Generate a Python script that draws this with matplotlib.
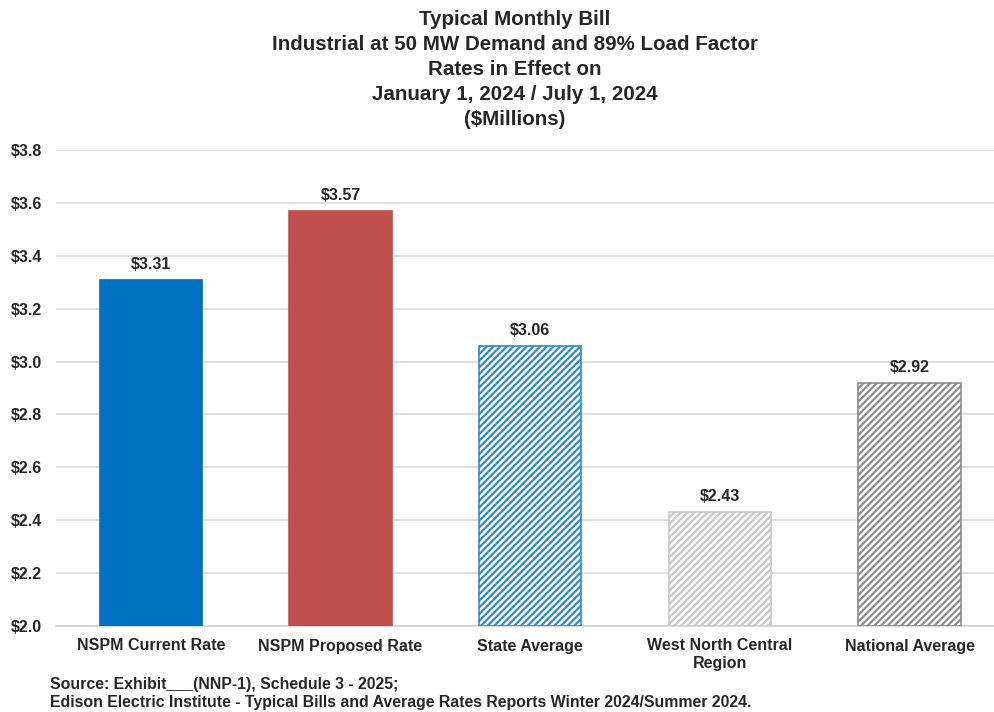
import matplotlib
matplotlib.use("Agg")
import matplotlib.pyplot as plt
from matplotlib.ticker import FuncFormatter

categories = ["NSPM Current Rate", "NSPM Proposed Rate", "State Average",
              "West North Central\nRegion", "National Average"]
values = [3.31, 3.57, 3.06, 2.43, 2.92]
value_labels = ["$3.31", "$3.57", "$3.06", "$2.43", "$2.92"]
y_ticks = [2.0, 2.2, 2.4, 2.6, 2.8, 3.0, 3.2, 3.4, 3.6, 3.8]

plt.rcParams['font.family'] = ['Liberation Sans', 'DejaVu Sans']
plt.rcParams['hatch.linewidth'] = 1.6

fig = plt.figure(figsize=(9.95, 7.12), dpi=100)
ax = fig.add_axes([56/995, 86/712, 1 - 56/995, (626-150)/712])

face = ["#0070C0", "#C0504D", "white", "white", "white"]
edge = ["#0070C0", "#C0504D", "#2E8BD0", "#C8C8C8", "#8C8C8C"]
hatch = [None, None, "/////", "/////", "/////"]

x = list(range(len(categories)))
for i in x:
    ax.bar(i, values[i] - 2.0, bottom=2.0, width=0.54, color=face[i],
           edgecolor=edge[i], hatch=hatch[i], linewidth=1.2, zorder=3)
    ax.text(i, values[i] + 0.03, value_labels[i], ha="center", va="bottom",
            fontsize=11.5, fontweight="bold", color="#262626")

ax.set_ylim(2.0, 3.8)
ax.set_xlim(-0.5, 4.45)
ax.set_yticks(y_ticks)
ax.yaxis.set_major_formatter(FuncFormatter(lambda v, p: f"${v:.1f}"))
ax.set_xticks(x)
ax.set_xticklabels(categories, fontsize=11.5, fontweight="bold", color="#262626")
for lbl in ax.get_yticklabels():
    lbl.set_fontweight("bold")
    lbl.set_fontsize(11.5)
    lbl.set_color("#262626")
ax.tick_params(axis="both", length=0)
ax.tick_params(axis="y", pad=10)
ax.tick_params(axis="x", pad=9)
ax.grid(axis="y", color="#D9D9D9", linewidth=1.2, zorder=0)
ax.set_axisbelow(True)
for s in ["top", "right", "left"]:
    ax.spines[s].set_visible(False)
ax.spines["bottom"].set_color("#D0D0D0")
ax.spines["bottom"].set_linewidth(1.2)

title = ("Typical Monthly Bill\nIndustrial at 50 MW Demand and 89% Load Factor\n"
         "Rates in Effect on\nJanuary 1, 2024 / July 1, 2024\n($Millions)")
fig.text(515/995, 1 - 10/712, title, ha="center", va="top", fontsize=14.8,
         fontweight="bold", color="#262626", linespacing=1.4)

fig.text(50/995, 1 - 685/712, "Source: Exhibit___(NNP-1), Schedule 3 - 2025;",
         ha="left", va="center", fontsize=11.4, fontweight="bold", color="#262626")
fig.text(50/995, 1 - 703/712,
         "Edison Electric Institute - Typical Bills and Average Rates Reports Winter 2024/Summer 2024.",
         ha="left", va="center", fontsize=11.4, fontweight="bold", color="#262626")

fig.savefig("out.png", dpi=100)
